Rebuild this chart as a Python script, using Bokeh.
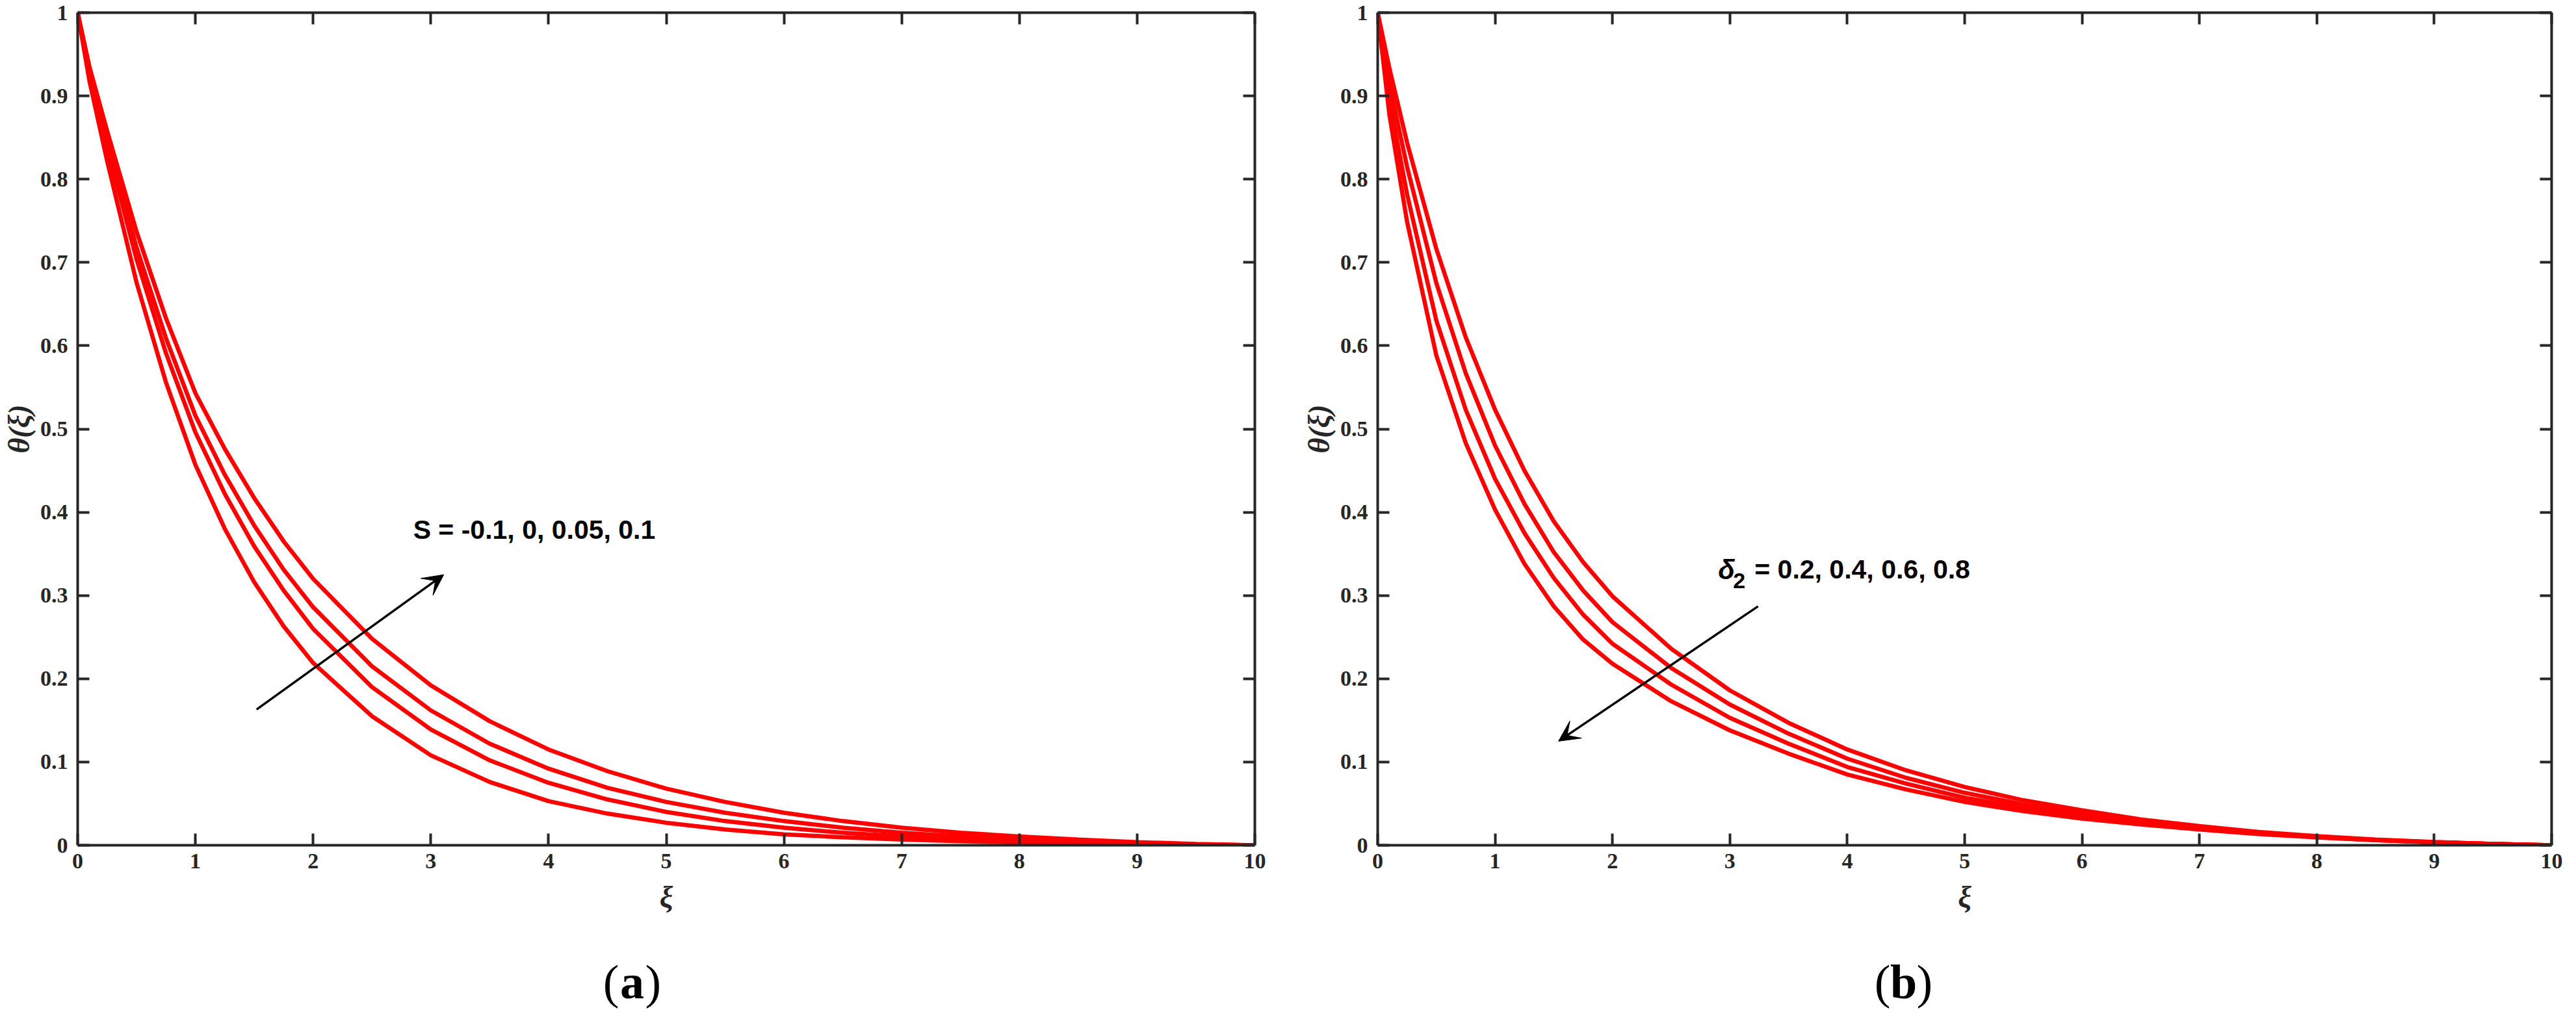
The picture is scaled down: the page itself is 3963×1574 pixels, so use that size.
from bokeh.plotting import figure
from bokeh.models import Range1d, LinearAxis, FixedTicker, Label, Arrow, VeeHead
from bokeh.layouts import row, column
from bokeh.core.properties import value
from bokeh.embed import file_html
from bokeh.resources import INLINE

# ---------------- data ----------------
xi = [0, 0.1, 0.25, 0.5, 0.75, 1, 1.25, 1.5, 1.75, 2, 2.5, 3, 3.5, 4, 4.5,
      5, 5.5, 6, 6.5, 7, 7.5, 8, 8.5, 9, 9.5, 10]

# panel (a): S = -0.1, 0, 0.05, 0.1
S_values = [-0.1, 0, 0.05, 0.1]
theta_S_m01 = [1, 0.918, 0.822, 0.676, 0.556, 0.457, 0.380, 0.316, 0.263, 0.219, 0.155, 0.108,
               0.076, 0.053, 0.038, 0.027, 0.019, 0.013, 0.0095, 0.0068, 0.0048, 0.0033,
               0.0021, 0.0012, 0.0005, 0]
theta_S_0 = [1, 0.925, 0.839, 0.704, 0.591, 0.496, 0.422, 0.359, 0.306, 0.260, 0.190, 0.139,
             0.102, 0.075, 0.055, 0.040, 0.029, 0.021, 0.015, 0.0105, 0.0072, 0.0048,
             0.0030, 0.0017, 0.0007, 0]
theta_S_005 = [1, 0.930, 0.848, 0.718, 0.609, 0.516, 0.445, 0.384, 0.331, 0.286, 0.215, 0.162,
               0.122, 0.092, 0.069, 0.052, 0.039, 0.029, 0.021, 0.015, 0.0105, 0.0070,
               0.0043, 0.0023, 0.0009, 0]
theta_S_01 = [1, 0.935, 0.858, 0.737, 0.633, 0.543, 0.476, 0.417, 0.365, 0.320, 0.248, 0.192,
              0.149, 0.115, 0.089, 0.068, 0.052, 0.039, 0.029, 0.021, 0.015, 0.0105,
              0.0068, 0.0038, 0.0015, 0]

# panel (b): delta_2 = 0.2, 0.4, 0.6, 0.8
d2_values = [0.2, 0.4, 0.6, 0.8]
theta_d2_02 = [1, 0.933, 0.844, 0.716, 0.610, 0.523, 0.450, 0.389, 0.340, 0.299, 0.236, 0.186,
               0.147, 0.115, 0.090, 0.070, 0.054, 0.042, 0.031, 0.023, 0.016, 0.011,
               0.0068, 0.0039, 0.0016, 0]
theta_d2_04 = [1, 0.914, 0.815, 0.675, 0.567, 0.480, 0.410, 0.352, 0.306, 0.268, 0.213, 0.169,
               0.134, 0.104, 0.081, 0.063, 0.049, 0.038, 0.029, 0.021, 0.015, 0.0102,
               0.0065, 0.0037, 0.0015, 0]
theta_d2_06 = [1, 0.895, 0.782, 0.630, 0.523, 0.440, 0.375, 0.321, 0.277, 0.242, 0.193, 0.153,
               0.122, 0.094, 0.074, 0.057, 0.045, 0.035, 0.027, 0.020, 0.014, 0.0098,
               0.0063, 0.0036, 0.0015, 0]
theta_d2_08 = [1, 0.877, 0.749, 0.588, 0.483, 0.403, 0.338, 0.287, 0.247, 0.218, 0.173, 0.138,
               0.110, 0.085, 0.067, 0.052, 0.041, 0.032, 0.025, 0.019, 0.0135, 0.0094,
               0.0061, 0.0035, 0.0015, 0]

x_ticks = [0, 1, 2, 3, 4, 5, 6, 7, 8, 9, 10]
x_tick_labels = ["0", "1", "2", "3", "4", "5", "6", "7", "8", "9", "10"]
y_ticks = [0, 0.1, 0.2, 0.3, 0.4, 0.5, 0.6, 0.7, 0.8, 0.9, 1]
y_tick_labels = ["0", "0.1", "0.2", "0.3", "0.4", "0.5", "0.6", "0.7", "0.8", "0.9", "1"]

x_label = "ξ"
y_label = "θ(ξ)"
text_a = "S = -0.1, 0, 0.05, 0.1"
text_b_sym = "δ"
text_b_sub = "2"
text_b_main = "= 0.2, 0.4, 0.6, 0.8"
panel_letters = ["a", "b"]

# ---------------- styling ----------------
AX = "#262626"
RED = "#FF0000"
SERIF = "Liberation Serif"
SANS = "Liberation Sans"


def style_axis(ax, ticks, labels, show):
    ax.ticker = FixedTicker(ticks=ticks)
    ax.axis_line_color = AX
    ax.axis_line_width = 4
    ax.major_tick_line_color = AX
    ax.major_tick_line_width = 4
    ax.major_tick_in = 18
    ax.major_tick_out = 0
    ax.minor_tick_line_color = None
    if show:
        ax.major_label_overrides = {t: l for t, l in zip(ticks, labels)}
        ax.major_label_text_font = SERIF
        ax.major_label_text_font_style = "bold"
        ax.major_label_text_font_size = "34px"
        ax.major_label_text_color = AX
    else:
        ax.major_label_text_font_size = "0px"
        ax.major_label_standoff = 0
        ax.major_label_text_color = None


def make_fig(width, border_left, border_right):
    p = figure(width=width, height=1440, output_backend="svg", toolbar_location=None,
               x_range=Range1d(0, 10), y_range=Range1d(0, 1),
               min_border_left=border_left, min_border_right=border_right,
               min_border_top=19, min_border_bottom=140)
    p.grid.visible = False
    p.outline_line_color = None
    p.background_fill_color = "white"
    p.border_fill_color = "white"
    xa = p.xaxis[0]
    ya = p.yaxis[0]
    style_axis(xa, x_ticks, x_tick_labels, True)
    style_axis(ya, y_ticks, y_tick_labels, True)
    xa.major_label_standoff = 13
    ya.major_label_standoff = 15
    xa.axis_label = x_label
    ya.axis_label = y_label
    for ax in (xa, ya):
        ax.axis_label_text_font = SERIF
        ax.axis_label_text_font_style = "bold italic"
        ax.axis_label_text_font_size = "46px"
        ax.axis_label_text_color = AX
    xa.axis_label_standoff = 16
    ya.axis_label_standoff = 4
    top = LinearAxis()
    right = LinearAxis()
    style_axis(top, x_ticks, x_tick_labels, False)
    style_axis(right, y_ticks, y_tick_labels, False)
    p.add_layout(top, "above")
    p.add_layout(right, "right")
    return p


def letter_fig(width, xc, letter):
    q = figure(width=width, height=118, output_backend="svg", toolbar_location=None,
               x_range=Range1d(0, width), y_range=Range1d(0, 118),
               min_border=0, min_border_left=0, min_border_right=0,
               min_border_top=0, min_border_bottom=0)
    q.axis.visible = False
    q.grid.visible = False
    q.outline_line_color = None
    q.border_fill_color = "white"
    yc = 48
    q.text(x=[xc - 20], y=[yc], text=["("], text_font=value(SERIF),
           text_font_size="74px", text_align="right", text_baseline="middle",
           text_color="black")
    q.text(x=[xc], y=[yc], text=[letter], text_font=value(SERIF), text_font_style="bold",
           text_font_size="74px", text_align="center", text_baseline="middle",
           text_color="black")
    q.text(x=[xc + 20], y=[yc], text=[")"], text_font=value(SERIF),
           text_font_size="74px", text_align="left", text_baseline="middle",
           text_color="black")
    return q


# ---------------- panel (a) ----------------
p1 = make_fig(2000, 115, 70)
for ys in (theta_S_m01, theta_S_0, theta_S_005, theta_S_01):
    p1.line(xi, ys, line_color=RED, line_width=6.5)
p1.add_layout(Arrow(end=VeeHead(size=32, fill_color="black", line_color="black"),
                    x_start=1.52, y_start=0.163, x_end=3.11, y_end=0.325,
                    line_color="black", line_width=3.5))
p1.add_layout(Label(x=2.85, y=0.379, text=text_a, text_font=SANS,
                    text_font_style="bold", text_font_size="41px", text_color="black",
                    text_align="left", text_baseline="middle"))

# ---------------- panel (b) ----------------
p2 = make_fig(1947, 114, 22)
for ys in (theta_d2_02, theta_d2_04, theta_d2_06, theta_d2_08):
    p2.line(xi, ys, line_color=RED, line_width=6.5)
p2.add_layout(Arrow(end=VeeHead(size=32, fill_color="black", line_color="black"),
                    x_start=3.24, y_start=0.287, x_end=1.54, y_end=0.125,
                    line_color="black", line_width=3.5))
p2.add_layout(Label(x=2.90, y=0.331, text=text_b_sym, text_font=SANS,
                    text_font_style="bold italic", text_font_size="42px", text_color="black",
                    text_align="left", text_baseline="middle"))
p2.add_layout(Label(x=2.90, y=0.331, x_offset=23, y_offset=-17, text=text_b_sub,
                    text_font=SANS, text_font_style="bold",
                    text_font_size="34px", text_color="black",
                    text_align="left", text_baseline="middle"))
p2.add_layout(Label(x=2.90, y=0.331, x_offset=56, text=text_b_main,
                    text_font=SANS, text_font_style="bold",
                    text_font_size="41px", text_color="black",
                    text_align="left", text_baseline="middle"))

q1 = letter_fig(2000, 972, panel_letters[0])
q2 = letter_fig(1947, 928, panel_letters[1])

layout = column(row(p1, p2), row(q1, q2))
open("out.html", "w").write(file_html(layout, INLINE))
